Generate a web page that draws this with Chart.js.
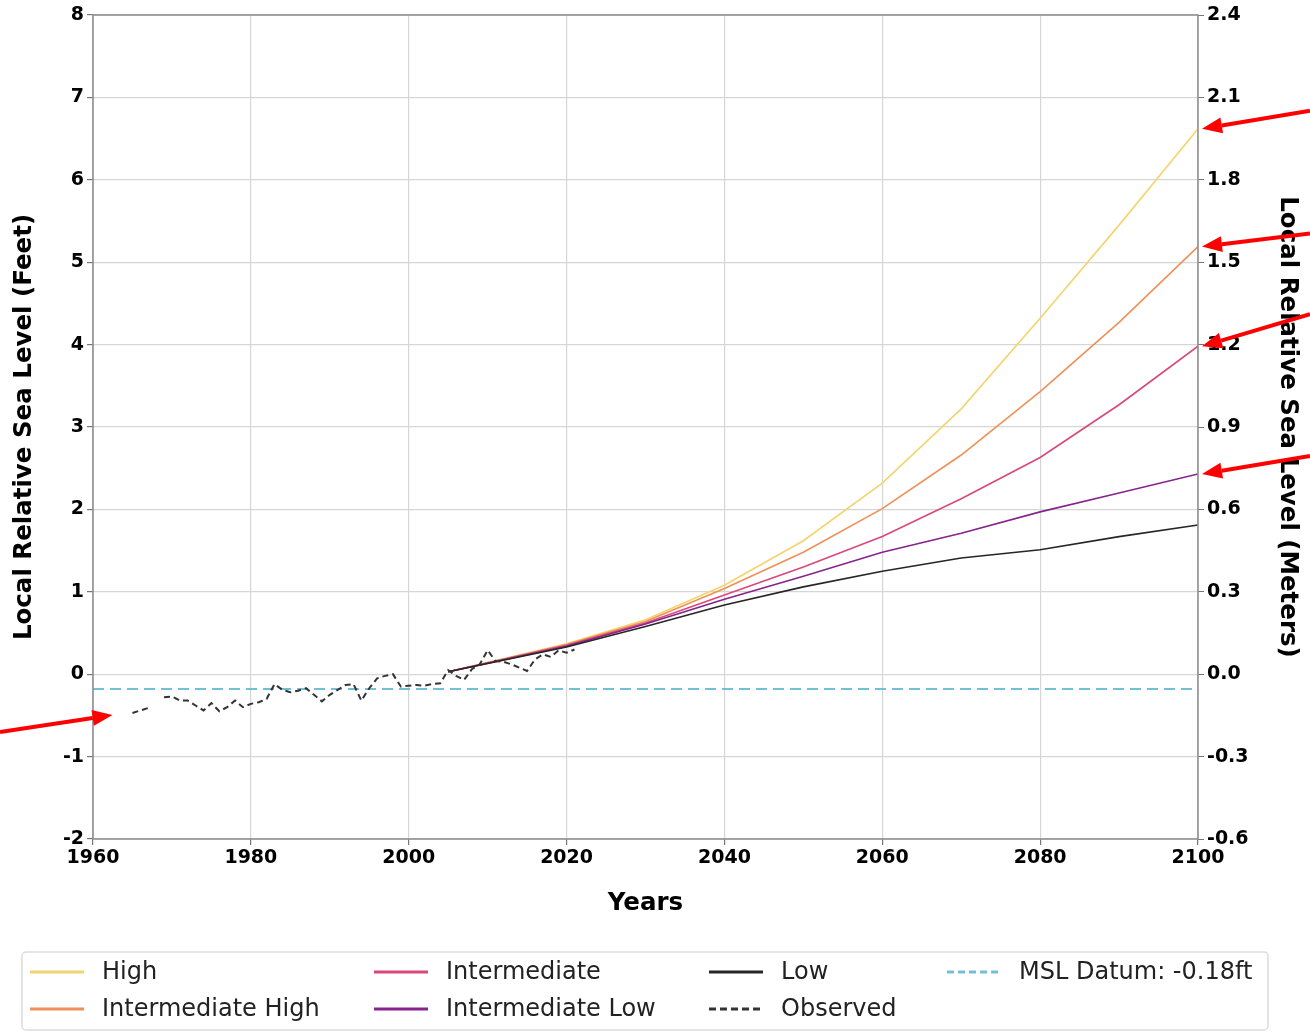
<!DOCTYPE html>
<html>
<head>
<meta charset="utf-8">
<script src="https://cdn.jsdelivr.net/npm/chart.js@4.4.1/dist/chart.umd.min.js"></script>
<style>
  html, body { margin: 0; padding: 0; background: #fff; }
  #wrap { width: 1310px; height: 1033px; }
</style>
</head>
<body>
<div id="wrap"><canvas id="seaLevel" width="1310" height="1033"></canvas></div>
<script>
// projection years and scenario values (feet)
var scenarioYears = [2005, 2020, 2030, 2040, 2050, 2060, 2070, 2080, 2090, 2100];
var highFt        = [0.03, 0.37, 0.66, 1.08, 1.62, 2.32, 3.22, 4.32, 5.45, 6.62];
var intHighFt     = [0.03, 0.36, 0.64, 1.04, 1.48, 2.01, 2.66, 3.43, 4.27, 5.19];
var intermedFt    = [0.03, 0.35, 0.62, 0.96, 1.30, 1.67, 2.13, 2.63, 3.27, 3.98];
var intLowFt      = [0.03, 0.34, 0.61, 0.91, 1.19, 1.48, 1.71, 1.97, 2.20, 2.43];
var lowFt         = [0.03, 0.33, 0.58, 0.84, 1.06, 1.25, 1.41, 1.51, 1.67, 1.81];

// observed annual values 1965 - 2021 (feet), null = missing year
var obsStartYear = 1965;
var obsFeet = [
  -0.47, -0.44, -0.41, null, -0.28, -0.27, -0.32, -0.32, -0.38, -0.44,
  -0.35, -0.45, -0.40, -0.32, -0.40, -0.36, -0.34, -0.30, -0.12, -0.19,
  -0.22, -0.20, -0.17, -0.25, -0.33, -0.25, -0.19, -0.13, -0.12, -0.32,
  -0.17, -0.05, -0.02, 0.00, -0.15, -0.14, -0.13, -0.14, -0.12, -0.11,
  0.05, -0.02, -0.07, 0.06, 0.12, 0.29, 0.16, 0.15, 0.12, 0.08,
  0.04, 0.18, 0.24, 0.21, 0.29, 0.26, 0.30
];

var mslDatum = -0.18;
var xRange = [1960, 2100];

function toPoints(xs, ys) {
    return xs.map(function (x, i) { return { x: x, y: ys[i] }; });
}
var obsYears = obsFeet.map(function (_, i) { return obsStartYear + i; });

Chart.defaults.font.family = 'DejaVu Sans';
Chart.defaults.color = '#000';

function scenario(label, data, color, order) {
    return {
        label: label,
        data: toPoints(scenarioYears, data),
        borderColor: color,
        backgroundColor: color,
        borderWidth: 1.6,
        pointRadius: 0,
        tension: 0,
        fill: false,
        order: order
    };
}

var datasets = [
    scenario('High', highFt, '#f3d46c', 5),
    scenario('Intermediate High', intHighFt, '#ee9057', 4),
    scenario('Intermediate', intermedFt, '#d8487c', 3),
    scenario('Intermediate Low', intLowFt, '#86238c', 2),
    scenario('Low', lowFt, '#262626', 1),
    {
        label: 'Observed',
        data: toPoints(obsYears, obsFeet),
        borderColor: '#333333',
        backgroundColor: '#333333',
        borderWidth: 2,
        borderDash: [6, 4],
        pointRadius: 0,
        spanGaps: false,
        order: 0
    },
    {
        label: 'MSL Datum: ' + mslDatum.toFixed(2) + 'ft',
        data: toPoints(xRange, [mslDatum, mslDatum]),
        borderColor: '#72bfd6',
        backgroundColor: '#72bfd6',
        borderWidth: 2,
        borderDash: [11, 6],
        pointRadius: 0,
        order: 6
    }
];

// legend laid out in columns, like the original
var legendColumns = [
    ['High', 'Intermediate High'],
    ['Intermediate', 'Intermediate Low'],
    ['Low', 'Observed'],
    [datasets[6].label]
];

var framePlugin = {
    id: 'frame',
    afterDatasetsDraw: function (chart) {
        var a = chart.chartArea, ctx = chart.ctx;
        ctx.save();
        ctx.strokeStyle = '#8c8c8c';
        ctx.lineWidth = 1.5;
        ctx.strokeRect(a.left, a.top, a.right - a.left, a.bottom - a.top);
        ctx.restore();
    }
};

function drawArrow(ctx, x0, y0, x1, y1) {
    var ang = Math.atan2(y1 - y0, x1 - x0);
    var headLen = 20, headW = 8;
    var bx = x1 - headLen * Math.cos(ang), by = y1 - headLen * Math.sin(ang);
    ctx.beginPath();
    ctx.moveTo(x0, y0);
    ctx.lineTo(bx, by);
    ctx.stroke();
    ctx.beginPath();
    ctx.moveTo(x1, y1);
    ctx.lineTo(bx + headW * Math.sin(ang), by - headW * Math.cos(ang));
    ctx.lineTo(bx - headW * Math.sin(ang), by + headW * Math.cos(ang));
    ctx.closePath();
    ctx.fill();
}

var arrowPlugin = {
    id: 'arrows',
    afterDraw: function (chart) {
        var ctx = chart.ctx, xs = chart.scales.x, ys = chart.scales.y;
        var last = scenarioYears.length - 1;
        // rise of each arrow tail above its tip
        var targets = [[highFt, 18], [intHighFt, 13], [intermedFt, 32], [intLowFt, 18]];
        ctx.save();
        ctx.strokeStyle = '#ff0000';
        ctx.fillStyle = '#ff0000';
        ctx.lineWidth = 4;
        targets.forEach(function (t) {
            var tx = xs.getPixelForValue(scenarioYears[last]) + 4;
            var ty = ys.getPixelForValue(t[0][last]);
            drawArrow(ctx, chart.width, ty - t[1], tx, ty);
        });
        var ox = xs.getPixelForValue(obsYears[0]) - 20;
        var oy = ys.getPixelForValue(obsFeet[0]) + 2;
        drawArrow(ctx, 0, oy + 17, ox, oy);
        ctx.restore();
    }
};

var legendPlugin = {
    id: 'columnLegend',
    afterDraw: function (chart) {
        var ctx = chart.ctx;
        var box = { x: 22, y: 952, w: 1246, h: 78 };
        var colX = [30, 374, 709, 947];
        var rowY = [972, 1009];
        ctx.save();
        ctx.strokeStyle = '#dcdcdc';
        ctx.lineWidth = 1.5;
        ctx.beginPath();
        ctx.roundRect(box.x, box.y, box.w, box.h, 4);
        ctx.stroke();
        ctx.font = '24px "DejaVu Sans"';
        ctx.textBaseline = 'middle';
        ctx.fillStyle = '#222';
        legendColumns.forEach(function (col, c) {
            col.forEach(function (label, r) {
                var ds = datasets.find(function (d) { return d.label === label; });
                var x = colX[c], y = rowY[r];
                ctx.strokeStyle = ds.borderColor;
                ctx.lineWidth = 3;
                ctx.setLineDash(ds.borderDash ? [7, 4] : []);
                ctx.beginPath();
                ctx.moveTo(x, y);
                ctx.lineTo(x + 54, y);
                ctx.stroke();
                ctx.setLineDash([]);
                ctx.fillText(label, x + 72, y + 1);
            });
        });
        ctx.restore();
    }
};

var options = {
    type: 'line',
    data: { datasets: datasets },
    options: {
        responsive: false,
        animation: false,
        layout: { padding: { top: 15, left: 0, right: 0, bottom: 103 } },
        plugins: {
            legend: { display: false },
            tooltip: { enabled: false }
        },
        scales: {
            x: {
                type: 'linear',
                min: xRange[0],
                max: xRange[1],
                ticks: {
                    stepSize: 20,
                    font: { size: 19, weight: 'bold' },
                    padding: 2,
                    maxRotation: 0,
                    callback: function (v) { return String(v); }
                },
                grid: { color: '#d6d6d6', lineWidth: 1.2, tickColor: '#777', tickLength: 6 },
                border: { display: false },
                title: {
                    display: true,
                    text: 'Years',
                    font: { size: 24.5, weight: 'bold' },
                    padding: { top: 0, bottom: 12 }
                },
                afterFit: function (s) { s.height = 91; }
            },
            y: {
                position: 'left',
                min: -2,
                max: 8,
                ticks: { stepSize: 1, font: { size: 19, weight: 'bold' }, padding: 3 },
                grid: { color: '#d6d6d6', lineWidth: 1.2, tickColor: '#777', tickLength: 6 },
                border: { display: false },
                title: {
                    display: true,
                    text: 'Local Relative Sea Level (Feet)',
                    font: { size: 24.5, weight: 'bold' },
                    padding: { top: 10, bottom: 0 }
                },
                afterFit: function (s) { s.width = 93; }
            },
            y2: {
                position: 'right',
                min: -0.6,
                max: 2.4,
                ticks: {
                    stepSize: 0.3,
                    font: { size: 19, weight: 'bold' },
                    padding: 3,
                    callback: function (v) { return v.toFixed(1); }
                },
                grid: { drawOnChartArea: false, tickColor: '#777', tickLength: 6 },
                border: { display: false },
                title: {
                    display: true,
                    text: 'Local Relative Sea Level (Meters)',
                    font: { size: 24.5, weight: 'bold' },
                    padding: { top: 8, bottom: 8 }
                },
                afterFit: function (s) { s.width = 112; }
            }
        }
    },
    plugins: [framePlugin, arrowPlugin, legendPlugin]
};

var theChart = new Chart(document.getElementById('seaLevel').getContext('2d'), options);
</script>
</body>
</html>
